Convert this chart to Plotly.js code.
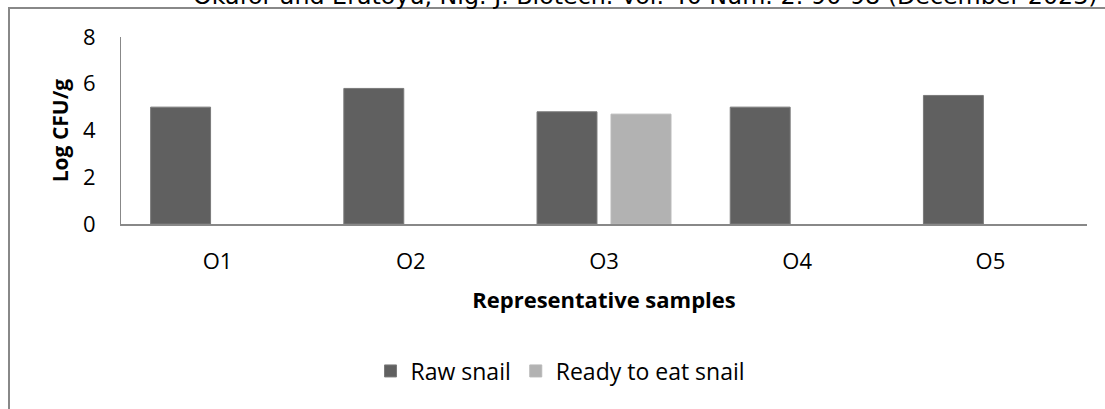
<!DOCTYPE html>
<html>
<head>
<meta charset="utf-8">
<script src="https://cdn.plot.ly/plotly-3.0.1.min.js"></script>
<style>
  html, body { margin:0; padding:0; background:#fff; width:1105px; height:409px; overflow:hidden; }
  #frame { position:absolute; left:8px; top:7px; width:1200px; height:500px;
           border-left:2px solid #888; border-top:2px solid #888; }
  #header { position:absolute; left:193px; top:-14px; white-space:nowrap;
            font-family:"DejaVu Sans", sans-serif; font-size:20px; line-height:0px; color:#000; }
  #chart { position:absolute; left:0; top:0; width:1105px; height:409px; }
</style>
</head>
<body>
<div id="frame"></div>
<div id="header">Okafor and Eratoyu, Nig. J. Biotech. Vol. 40 Num. 2: 90-98 (December 2023)</div>
<div id="chart"></div>
<script>
const categories = ["O1", "O2", "O3", "O4", "O5"];
const rawSnail = [5.0, 5.8, 4.8, 5.0, 5.5];
const readyToEat = [null, null, 4.7, null, null];
const seriesNames = ["Raw snail", "Ready to eat snail"];
const yTicks = [0, 2, 4, 6, 8];

// fit the clipped running header to its span in the reference (x 193..1098, baseline ~y 4.5)
(function () {
  const h = document.getElementById("header");
  const w = h.getBoundingClientRect().width;
  const f = 20 * 905 / w;
  h.style.fontSize = f + "px";
  h.style.top = (4.5 - 0.346 * f) + "px";
})();

const font = "'Open Sans', sans-serif";

const traces = [
  { type: "bar", name: seriesNames[0], x: categories, y: rawSnail,
    marker: { color: "#606060", line: { color: "#7a7a7a", width: 1 } } },
  { type: "bar", name: seriesNames[1], x: categories, y: readyToEat,
    marker: { color: "#b2b2b2", line: { color: "#b8b8b8", width: 1 } } }
];

const layout = {
  width: 1105, height: 409,
  margin: { l: 121, r: 18, t: 37, b: 185 },
  paper_bgcolor: "rgba(0,0,0,0)",
  plot_bgcolor: "rgba(0,0,0,0)",
  barmode: "group",
  bargap: 0.234,
  bargroupgap: 0.19,
  showlegend: true,
  legend: {
    orientation: "h", x: 0.455, xanchor: "center", y: -0.786, yanchor: "middle",
    font: { family: font, size: 23, color: "#000" },
    itemwidth: 30, traceorder: "normal", itemclick: false
  },
  xaxis: {
    type: "category",
    showline: true, linecolor: "#888", linewidth: 2,
    ticks: "", showgrid: false, zeroline: false,
    tickfont: { family: font, size: 22, color: "#000" },
    ticklabelstandoff: 17,
    title: { text: "<b>Representative samples</b>", font: { family: font, size: 22, color: "#000" }, standoff: 18 },
    automargin: false
  },
  yaxis: {
    range: [0, 8], tickvals: yTicks,
    showline: true, linecolor: "#888", linewidth: 1,
    ticks: "", showgrid: false, zeroline: false,
    tickfont: { family: font, size: 22, color: "#000" },
    ticklabelstandoff: 20,
    title: { text: "<b>Log CFU/g</b>", font: { family: font, size: 21, color: "#000" }, standoff: 8 },
    automargin: false
  }
};

Plotly.newPlot("chart", traces, layout, { staticPlot: true, displayModeBar: false });
</script>
</body>
</html>
